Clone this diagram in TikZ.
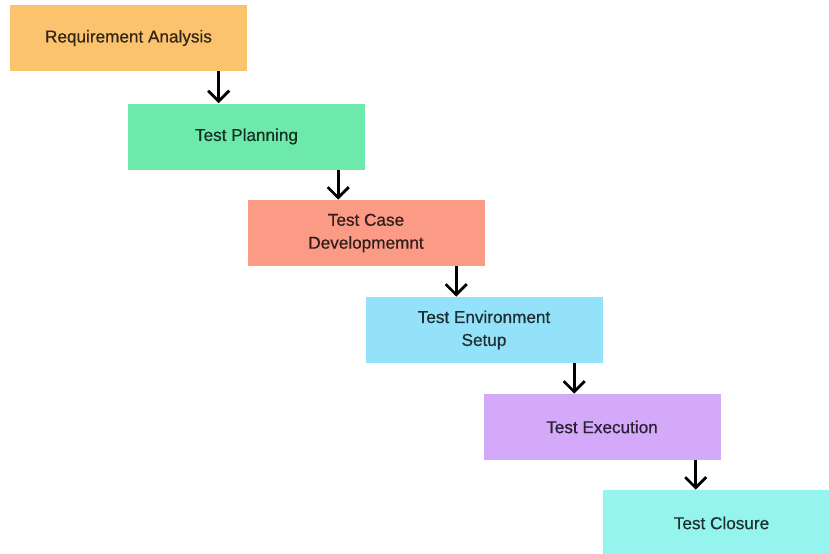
\documentclass[tikz,border=0pt]{standalone}
\usepackage{fontspec}
\setmainfont{Liberation Sans}
\newfontfamily\phasefont[FakeBold=0.6]{Liberation Sans}
\usepackage{tikz}
\usetikzlibrary{arrows.meta,calc}
\newcommand{\px}{0.025cm}
\newcommand{\arrowwidth}{2pt}
\definecolor{reqcolor}{HTML}{FCC36F}
\definecolor{plancolor}{HTML}{6EE9AC}
\definecolor{casecolor}{HTML}{FB9B85}
\definecolor{envcolor}{HTML}{94E1FA}
\definecolor{execcolor}{HTML}{D4A9F9}
\definecolor{closecolor}{HTML}{95F5EE}
\tikzset{
  phase/.style={fill=#1, text=#1!20!black, minimum width=237*\px, minimum height=66*\px,
    inner sep=0pt, align=center, font=\phasefont\fontsize{12.2}{16.3}\selectfont},
  flow/.style={line width=\arrowwidth, -{Straight Barb[length=7.5pt,width=15pt]}}
}

\begin{document}
\begin{tikzpicture}[x=\px,y=-\px]
\useasboundingbox (0,0) rectangle (829,553);
\clip (0,0) rectangle (829,553);
\node[phase=reqcolor] (1) at (128.5,38) {Requirement Analysis};
\node[phase=plancolor] (2) at (246.5,136.5) {Test Planning};
\node[phase=casecolor] (3) at (366,233) {Test Case\\Developmemnt};
\node[phase=envcolor] (4) at (484,330) {Test Environment\\Setup};
\node[phase=execcolor] (5) at (602,427) {Test Execution};
\node[phase=closecolor] (6) at (721.5,523) {Test Closure};
%arrows
\draw[flow] ([xshift=91*\px]2.north west |- 1.south) -- ([xshift=91*\px]2.north west);
\draw[flow] ([xshift=91*\px]3.north west |- 2.south) -- ([xshift=91*\px]3.north west);
\draw[flow] ([xshift=91*\px]4.north west |- 3.south) -- ([xshift=91*\px]4.north west);
\draw[flow] ([xshift=91*\px]5.north west |- 4.south) -- ([xshift=91*\px]5.north west);
\draw[flow] ([xshift=93*\px]6.north west |- 5.south) -- ([xshift=93*\px]6.north west);
\end{tikzpicture}
\end{document}
